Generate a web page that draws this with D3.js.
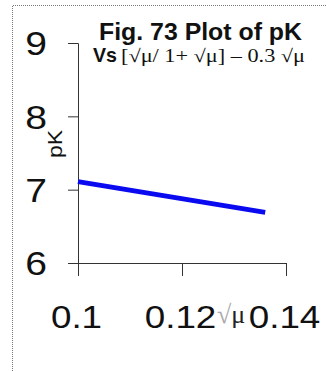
<!DOCTYPE html>
<html>
<head>
<meta charset="utf-8">
<script src="https://cdn.jsdelivr.net/npm/d3@7"></script>
<style>
  body { margin: 0; background: #fff; }
  svg { display: block; }
</style>
</head>
<body>
<div id="chart"></div>
<script>
// values
const sqrtMu = [0.1, 0.136];
const pK = [7.11, 6.69];
const xTicks = [0.1, 0.12, 0.14];
const xTickLabels = ["0.1", "0.12", "0.14"];
const yTicks = [6, 7, 8, 9];
const yTickLabels = ["6", "7", "8", "9"];
const titleLine1 = "Fig. 73 Plot of pK";
const titleLine2a = "Vs";
const titleLine2b = "[\u221A\u03BC/ 1+ \u221A\u03BC] \u2013 0.3 \u221A\u03BC";

const W = 326, H = 371;
const svg = d3.select("#chart").append("svg").attr("width", W).attr("height", H);

// outer frame (left and top edge only)
svg.append("path")
  .attr("d", `M12.5,${H} V5.5 H${W}`)
  .attr("fill", "none")
  .attr("stroke", "#777")
  .attr("stroke-dasharray", "1 1");

const x = d3.scaleLinear().domain([0.1, 0.14]).range([78, 286]);
const y = d3.scaleLinear().domain([6, 9]).range([263, 43]);

// stretch text a bit wider, like the source image
function widen(sel, k) {
  sel.each(function () {
    const len = this.getComputedTextLength();
    d3.select(this).attr("textLength", len * k).attr("lengthAdjust", "spacingAndGlyphs");
  });
}

const yAxis = svg.append("g")
  .attr("transform", "translate(78,0)")
  .call(d3.axisLeft(y).tickValues(yTicks).tickSize(10).tickPadding(21)
    .tickFormat((d, i) => yTickLabels[i]));
yAxis.selectAll("text")
  .attr("font-family", "Liberation Sans, Arial, sans-serif")
  .attr("font-size", 34)
  .attr("fill", "#111")
  .attr("dy", "0.35em")
  .call(widen, 1.15);

const xAxis = svg.append("g")
  .attr("transform", "translate(0,263)")
  .call(d3.axisBottom(x).tickValues(xTicks).tickSize(13)
    .tickFormat((d, i) => xTickLabels[i]));
xAxis.selectAll("text")
  .attr("font-family", "Liberation Sans, Arial, sans-serif")
  .attr("font-size", 32)
  .attr("fill", "#111")
  .attr("y", 65)
  .attr("dy", 0)
  .attr("x", -2)
  .call(widen, 1.15);

svg.selectAll(".domain, .tick line")
  .attr("stroke", "#333")
  .attr("stroke-width", 1);

// x axis title √μ
const xt = svg.append("text")
  .attr("x", 217)
  .attr("y", 323)
  .attr("font-family", "Liberation Serif, Times New Roman, serif")
  .attr("font-size", 26);
xt.append("tspan").attr("fill", "#aaa").text("\u221A");
xt.append("tspan").attr("fill", "#222").text("\u03BC");

// y axis title
svg.append("text")
  .attr("transform", "translate(62,144) rotate(-90)")
  .attr("text-anchor", "middle")
  .attr("font-family", "Liberation Sans, Arial, sans-serif")
  .attr("font-size", 20)
  .attr("fill", "#111")
  .text("pK")
  .call(widen, 1.15);

// the line
const line = d3.line().x((d, i) => x(sqrtMu[i])).y(d => y(d));
svg.append("path")
  .datum(pK)
  .attr("d", line)
  .attr("fill", "none")
  .attr("stroke", "#0a0af0")
  .attr("stroke-width", 5);

// title
svg.append("text")
  .attr("x", 99)
  .attr("y", 40)
  .attr("font-family", "Liberation Sans, Arial, sans-serif")
  .attr("font-weight", "bold")
  .attr("font-size", 23)
  .attr("fill", "#111")
  .attr("textLength", 203)
  .attr("lengthAdjust", "spacingAndGlyphs")
  .text(titleLine1);

svg.append("text")
  .attr("x", 93)
  .attr("y", 62)
  .attr("font-family", "Liberation Sans, Arial, sans-serif")
  .attr("font-weight", "bold")
  .attr("font-size", 21)
  .attr("fill", "#111")
  .attr("textLength", 24)
  .attr("lengthAdjust", "spacingAndGlyphs")
  .text(titleLine2a);

svg.append("text")
  .attr("x", 121)
  .attr("y", 62)
  .attr("font-family", "Liberation Serif, Times New Roman, serif")
  .attr("font-size", 18)
  .attr("fill", "#111")
  .attr("textLength", 184)
  .attr("lengthAdjust", "spacingAndGlyphs")
  .text(titleLine2b);
</script>
</body>
</html>
